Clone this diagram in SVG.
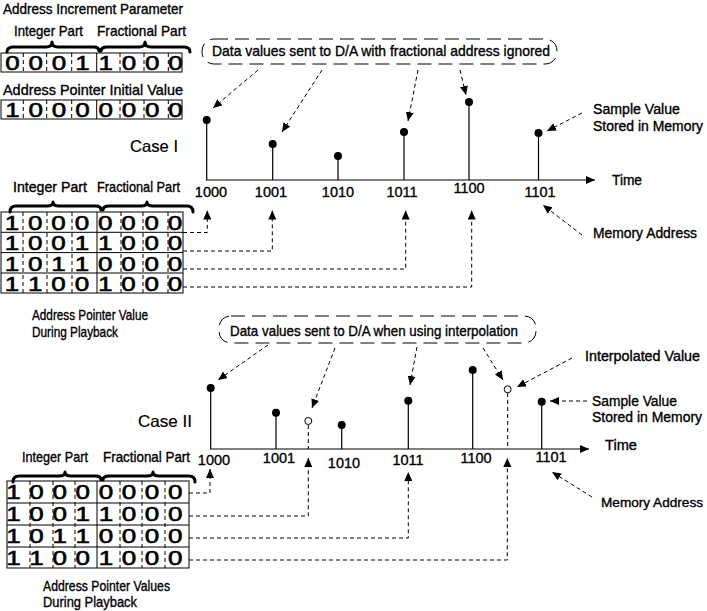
<svg xmlns="http://www.w3.org/2000/svg" width="707" height="611" viewBox="0 0 707 611">
<defs>
<marker id="ah" viewBox="0 0 9 8" refX="9" refY="4" markerWidth="9" markerHeight="8" markerUnits="userSpaceOnUse" orient="auto"><path d="M0,0L9,4L0,8z" fill="#000"/></marker>
</defs>
<style>
text{font-family:"Liberation Sans",Arial,sans-serif;fill:#000;stroke:#000;stroke-width:0.35}
.t{font-size:14.5px}
.n{font-size:14px}
.c{font-size:16.5px;stroke-width:0.2}
.d{font-size:20px;text-anchor:middle;stroke-width:0.6}
.box{fill:none;stroke:#000;stroke-width:1}
.sep{stroke:#000;stroke-width:1}
.dsep{stroke:#000;stroke-width:1;stroke-dasharray:4 3}
.brace{fill:none;stroke:#000;stroke-width:3;stroke-linecap:round;stroke-linejoin:round}
.callout{fill:none;stroke:#000;stroke-width:1;stroke-dasharray:14 7}
.stem{stroke:#000;stroke-width:1.2}
.axis{stroke:#000;stroke-width:1.2;marker-end:url(#ah)}
.dot{fill:#000}
.open{fill:#fff;stroke:#000;stroke-width:1}
.con{fill:none;stroke:#000;stroke-width:1;stroke-dasharray:4 3;marker-end:url(#ah)}
.conp{fill:none;stroke:#000;stroke-width:1;stroke-dasharray:4 3}
</style>
<rect width="707" height="611" fill="#fff"/>

<g id="increment-param">
<text class="t" x="3" y="14" textLength="180" lengthAdjust="spacingAndGlyphs">Address Increment Parameter</text>
<text class="t" x="14" y="36" textLength="69" lengthAdjust="spacingAndGlyphs">Integer Part</text>
<text class="t" x="97" y="36" textLength="89" lengthAdjust="spacingAndGlyphs">Fractional Part</text>
<path class="brace" d="M7,52 Q7,47 13,47 L46,47 Q52,47 52,42 Q52,47 58,47 L94,47 Q99,47 99,51"/>
<path class="brace" d="M101,51 Q101,47 107,47 L139,47 Q145,47 145,42 Q145,47 151,47 L184,47 Q190,47 190,52"/>
<rect class="box" x="1" y="53" width="181" height="19"/>
<line class="sep" x1="96.7" y1="53" x2="96.7" y2="72"/>
<path class="dsep" d="M23.3,53V72M46.7,53V72M71.7,53V72M120,53V72M144,53V72M168.3,53V72"/>
<text class="d" transform="scale(1.3,1)" x="9.62 27.54 45.46 63.38 81.31 99.23 117.15 135.08" y="70">00011000</text>
</g>

<g id="pointer-initial">
<text class="t" x="3" y="95" textLength="180" lengthAdjust="spacingAndGlyphs">Address Pointer Initial Value</text>
<rect class="box" x="1" y="100" width="181" height="19"/>
<line class="sep" x1="96.7" y1="100" x2="96.7" y2="119"/>
<path class="dsep" d="M23.3,100V119M46.7,100V119M71.7,100V119M120,100V119M144,100V119M168.3,100V119"/>
<text class="d" transform="scale(1.3,1)" x="9.62 27.54 45.46 63.38 81.31 99.23 117.15 135.08" y="117">10000000</text>
</g>

<g id="case1-label"><text class="c" x="130" y="152" textLength="48" lengthAdjust="spacingAndGlyphs">Case I</text></g>

<g id="case1-table">
<text class="t" x="13" y="192" textLength="74" lengthAdjust="spacingAndGlyphs">Integer Part</text>
<text class="t" x="97" y="192" textLength="83" lengthAdjust="spacingAndGlyphs">Fractional Part</text>
<path class="brace" d="M10,212 Q10,206 16,206 L47,206 Q53,206 53,202 Q53,206 59,206 L96,206 Q101,206 101,210"/>
<path class="brace" d="M103,210 Q103,206 109,206 L141,206 Q147,206 147,202 Q147,206 153,206 L187,206 Q193,206 193,212"/>
<rect class="box" x="1" y="212" width="182" height="81"/>
<path class="sep" d="M1,232.3H183M1,252.6H183M1,273H183M97,212V293"/>
<path class="dsep" d="M23,212V293M47,212V293M72,212V293M121,212V293M143,212V293M168,212V293"/>
<g transform="scale(1.3,1)">
<text class="d" x="9.23 27.15 45.08 63 80.92 98.85 116.77 134.69" y="230">10000000</text>
<text class="d" x="9.23 27.15 45.08 63 80.92 98.85 116.77 134.69" y="250.3">10011000</text>
<text class="d" x="9.23 27.15 45.08 63 80.92 98.85 116.77 134.69" y="270.6">10110000</text>
<text class="d" x="9.23 27.15 45.08 63 80.92 98.85 116.77 134.69" y="291">11001000</text>
</g>
<text class="t" x="32" y="320" textLength="116" lengthAdjust="spacingAndGlyphs">Address Pointer Value</text>
<text class="t" x="32" y="337" textLength="86" lengthAdjust="spacingAndGlyphs">During Playback</text>
</g>

<g id="case1-callout">
<rect class="callout" x="202" y="39" width="355" height="25" rx="12" ry="12"/>
<text class="t" x="212" y="56" textLength="338" lengthAdjust="spacingAndGlyphs">Data values sent to D/A with fractional address ignored</text>
</g>

<g id="case1-plot">
<line class="axis" x1="206" y1="180" x2="595" y2="180"/>
<line class="stem" x1="206.7" y1="120" x2="206.7" y2="180"/>
<line class="stem" x1="272.7" y1="144" x2="272.7" y2="180"/>
<line class="stem" x1="338" y1="156" x2="338" y2="180"/>
<line class="stem" x1="404" y1="132" x2="404" y2="180"/>
<line class="stem" x1="469" y1="102" x2="469" y2="180"/>
<line class="stem" x1="538.5" y1="133" x2="538.5" y2="180"/>
<circle class="dot" cx="206.7" cy="120" r="4"/>
<circle class="dot" cx="272.7" cy="144" r="4"/>
<circle class="dot" cx="338" cy="156" r="4"/>
<circle class="dot" cx="404" cy="132" r="4"/>
<circle class="dot" cx="469" cy="102" r="4"/>
<circle class="dot" cx="538.5" cy="133" r="4"/>
<g class="t" text-anchor="middle">
<text x="211" y="197">1000</text>
<text x="271" y="197">1001</text>
<text x="338" y="197">1010</text>
<text x="402" y="197">1011</text>
<text x="469" y="193">1100</text>
<text x="540" y="197">1101</text>
</g>
<text class="t" x="612" y="185" textLength="30" lengthAdjust="spacingAndGlyphs">Time</text>
</g>

<g id="case1-notes">
<text class="n" x="593" y="114" textLength="87" lengthAdjust="spacingAndGlyphs">Sample Value</text>
<text class="n" x="593" y="131" textLength="110" lengthAdjust="spacingAndGlyphs">Stored in Memory</text>
<text class="n" x="593" y="238" textLength="104" lengthAdjust="spacingAndGlyphs">Memory Address</text>
</g>

<g id="case2-label"><text class="c" x="138" y="427" textLength="54" lengthAdjust="spacingAndGlyphs">Case II</text></g>

<g id="case2-table">
<text class="t" x="22" y="462" textLength="66" lengthAdjust="spacingAndGlyphs">Integer Part</text>
<text class="t" x="103" y="462" textLength="87" lengthAdjust="spacingAndGlyphs">Fractional Part</text>
<path class="brace" d="M13,482 Q13,476 19,476 L59,476 Q65,476 65,472 Q65,476 71,476 L96,476 Q101,476 101,480"/>
<path class="brace" d="M103,480 Q103,476 109,476 L147,476 Q153,476 153,472 Q153,476 159,476 L189,476 Q195,476 195,482"/>
<rect class="box" x="7" y="481" width="182" height="87"/>
<path class="sep" d="M7,503H189M7,525H189M7,547H189M97,481V568"/>
<path class="dsep" d="M30,481V568M53,481V568M75,481V568M120,481V568M142,481V568M165,481V568"/>
<g transform="scale(1.3,1)">
<text class="d" x="10.38 28.15 45.92 63.69 81.46 99.23 117 134.77" y="499">10000000</text>
<text class="d" x="10.38 28.15 45.92 63.69 81.46 99.23 117 134.77" y="521">10011000</text>
<text class="d" x="10.38 28.15 45.92 63.69 81.46 99.23 117 134.77" y="543">10110000</text>
<text class="d" x="10.38 28.15 45.92 63.69 81.46 99.23 117 134.77" y="565">11001000</text>
</g>
<text class="t" x="43" y="591" textLength="127" lengthAdjust="spacingAndGlyphs">Address Pointer Values</text>
<text class="t" x="43" y="607" textLength="94" lengthAdjust="spacingAndGlyphs">During Playback</text>
</g>

<g id="case2-callout">
<rect class="callout" x="219" y="316" width="317" height="27" rx="12" ry="12"/>
<text class="t" x="230" y="336" textLength="288" lengthAdjust="spacingAndGlyphs">Data values sent to D/A when using interpolation</text>
</g>

<g id="case2-plot">
<line class="axis" x1="210" y1="449" x2="589" y2="449"/>
<line class="stem" x1="210.7" y1="388" x2="210.7" y2="449"/>
<line class="stem" x1="276" y1="412.7" x2="276" y2="449"/>
<line class="stem" x1="341.7" y1="425" x2="341.7" y2="449"/>
<line class="stem" x1="408.3" y1="400.7" x2="408.3" y2="449"/>
<line class="stem" x1="472.7" y1="370" x2="472.7" y2="449"/>
<line class="stem" x1="541.7" y1="401.7" x2="541.7" y2="449"/>
<circle class="dot" cx="210.7" cy="388" r="4"/>
<circle class="dot" cx="276" cy="412.7" r="4"/>
<circle class="dot" cx="341.7" cy="425" r="4"/>
<circle class="dot" cx="408.3" cy="400.7" r="4"/>
<circle class="dot" cx="472.7" cy="370" r="4"/>
<circle class="dot" cx="541.7" cy="401.7" r="4"/>
<circle class="open" cx="308.3" cy="421" r="3.5"/>
<circle class="open" cx="507.7" cy="389.3" r="3.5"/>
<g class="t" text-anchor="middle">
<text x="214" y="465">1000</text>
<text x="279" y="463">1001</text>
<text x="344" y="468">1010</text>
<text x="408" y="465">1011</text>
<text x="476" y="463">1100</text>
<text x="551" y="462">1101</text>
</g>
<text class="t" x="605" y="450" textLength="32" lengthAdjust="spacingAndGlyphs">Time</text>
</g>

<g id="case2-notes">
<text class="n" x="585" y="361" textLength="115" lengthAdjust="spacingAndGlyphs">Interpolated Value</text>
<text class="n" x="592" y="406" textLength="85" lengthAdjust="spacingAndGlyphs">Sample Value</text>
<text class="n" x="592" y="422" textLength="110" lengthAdjust="spacingAndGlyphs">Stored in Memory</text>
<text x="601" y="507" font-size="13.5" textLength="102" lengthAdjust="spacingAndGlyphs">Memory Address</text>
</g>

<g id="connectors">
<path class="con" d="M258,70L213,108"/>
<path class="con" d="M322,70L282,132"/>
<path class="con" d="M418,70L408,121"/>
<path class="con" d="M460,70L466,95"/>
<path class="con" d="M582,113L547,131"/>
<path class="con" d="M582,235L543,205"/>
<path class="con" d="M183,232.5H207.3V210.5"/>
<path class="con" d="M183,251H272.3V210.5"/>
<path class="con" d="M183,269H405.7V210.5"/>
<path class="con" d="M183,287H471.7V210.5"/>
<path class="con" d="M268,345L218,380"/>
<path class="con" d="M335,348L312,408"/>
<path class="con" d="M417,347L410,385"/>
<path class="con" d="M483,348L503,380"/>
<path class="con" d="M572,358L517,387"/>
<path class="con" d="M587,401L550,401"/>
<path class="con" d="M592,497L552,472"/>
<path class="conp" d="M308.3,425V449"/>
<path class="conp" d="M507.7,393V449"/>
<path class="con" d="M189,493H210V469"/>
<path class="con" d="M189,516H308.3V458"/>
<path class="con" d="M189,538H408.3V472"/>
<path class="con" d="M189,560H507.3V458"/>
</g>
</svg>
